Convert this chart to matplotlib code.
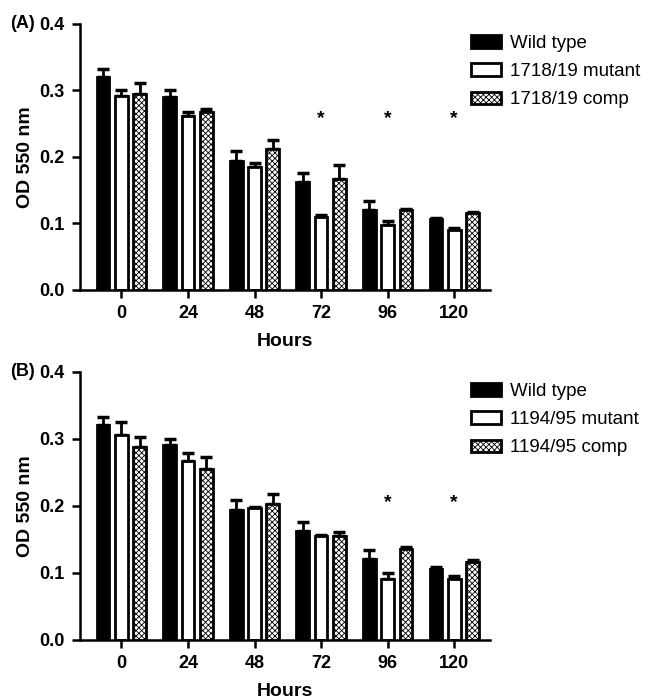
import numpy as np
import matplotlib
matplotlib.use("Agg")
import matplotlib.pyplot as plt

plt.rcParams['font.family'] = ['Liberation Sans', 'DejaVu Sans']
plt.rcParams['hatch.linewidth'] = 0.6

hours = ["0", "24", "48", "72", "96", "120"]

# panel A
a_labels = ["Wild type", "1718/19 mutant", "1718/19 comp"]
a_wt = [0.320, 0.290, 0.193, 0.162, 0.120, 0.106]
a_wt_err = [0.012, 0.010, 0.015, 0.014, 0.014, 0.002]
a_mut = [0.292, 0.262, 0.184, 0.110, 0.097, 0.090]
a_mut_err = [0.008, 0.006, 0.007, 0.003, 0.007, 0.003]
a_comp = [0.294, 0.268, 0.212, 0.166, 0.120, 0.115]
a_comp_err = [0.017, 0.004, 0.014, 0.022, 0.002, 0.002]
a_stars = ["72", "96", "120"]

# panel B
b_labels = ["Wild type", "1194/95 mutant", "1194/95 comp"]
b_wt = [0.320, 0.290, 0.193, 0.162, 0.120, 0.106]
b_wt_err = [0.012, 0.010, 0.015, 0.014, 0.014, 0.002]
b_mut = [0.306, 0.267, 0.196, 0.155, 0.091, 0.091]
b_mut_err = [0.019, 0.012, 0.002, 0.002, 0.009, 0.004]
b_comp = [0.288, 0.255, 0.203, 0.155, 0.135, 0.116]
b_comp_err = [0.015, 0.018, 0.014, 0.006, 0.004, 0.003]
b_stars = ["96", "120"]


def panel(ax, labels, wt, wt_err, mut, mut_err, comp, comp_err, stars, star_y, tag, leg_y):
    x = np.arange(len(hours))
    w = 0.19
    series = [(wt, wt_err, 'black', ''), (mut, mut_err, 'white', ''), (comp, comp_err, 'white', 'xxxxxx')]
    handles = []
    for i, (vals, err, fc, hatch) in enumerate(series):
        pos = x + (i - 1) * 0.275
        b = ax.bar(pos, vals, w, color=fc, edgecolor='black', linewidth=2, hatch=hatch, label=labels[i], zorder=2)
        ax.errorbar(pos, vals, yerr=[np.zeros(len(err)), err], fmt='none', ecolor='black',
                    elinewidth=2, capsize=4, capthick=2.5, zorder=1)
        handles.append(b)
    for s in stars:
        ax.text(hours.index(s), star_y, "*", ha='center', va='center', fontsize=14, fontweight='bold')
    ax.set_xlim(-0.62, 5.54)
    ax.set_ylim(0, 0.4)
    ax.set_yticks([0.0, 0.1, 0.2, 0.3, 0.4])
    ax.set_yticklabels(["0.0", "0.1", "0.2", "0.3", "0.4"])
    ax.set_xticks(x)
    ax.set_xticklabels(hours)
    for sp in ['top', 'right']:
        ax.spines[sp].set_visible(False)
    for sp in ['left', 'bottom']:
        ax.spines[sp].set_linewidth(1.8)
    ax.tick_params(width=1.8, length=6, labelsize=13, pad=5)
    for lab in ax.get_xticklabels() + ax.get_yticklabels():
        lab.set_fontweight('bold')
    ax.set_ylabel("OD 550 nm", fontsize=14, fontweight='bold', labelpad=4)
    ax.set_xlabel("Hours", fontsize=14, fontweight='bold', labelpad=8)
    fig.legend(handles, labels, loc='upper left', bbox_to_anchor=(0.723, leg_y), frameon=False,
               fontsize=13.5, handlelength=1.6, handleheight=0.65, labelspacing=0.6,
               handletextpad=0.5, borderpad=0, borderaxespad=0)
    bb = ax.get_position()
    fig.text(0.016, bb.y1, tag, fontsize=13, fontweight='bold', va='center', ha='left')


fig = plt.figure(figsize=(6.51, 7.0), dpi=100)
ax1 = fig.add_axes([0.123, 0.586, 0.630, 0.380])
ax2 = fig.add_axes([0.123, 0.086, 0.630, 0.383])

panel(ax1, a_labels, a_wt, a_wt_err, a_mut, a_mut_err, a_comp, a_comp_err, a_stars, 0.258, "(A)", 0.950)
panel(ax2, b_labels, b_wt, b_wt_err, b_mut, b_mut_err, b_comp, b_comp_err, b_stars, 0.205, "(B)", 0.453)

fig.savefig("out.png", dpi=100)
